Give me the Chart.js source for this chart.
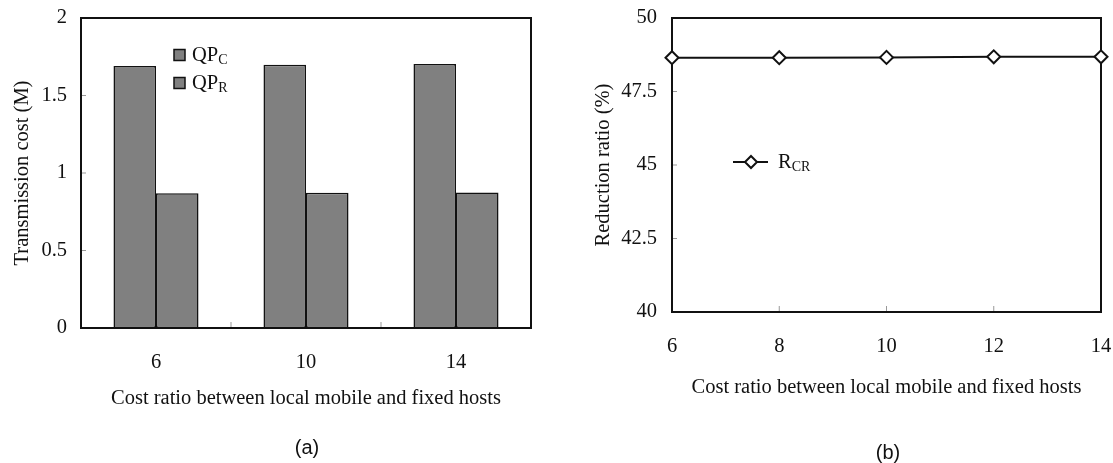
<!DOCTYPE html>
<html>
<head>
<meta charset="utf-8">
<script src="https://cdn.jsdelivr.net/npm/chart.js@4/dist/chart.umd.min.js"></script>
<style>
body{margin:0;background:#fff;width:1113px;height:463px;position:relative;overflow:hidden}
#ca{position:absolute;left:0;top:0}
#cb{position:absolute;left:556px;top:0}
.cap{position:absolute;font:20px "Liberation Sans",Arial,sans-serif;line-height:24px;color:#111;width:40px;text-align:center}
</style>
</head>
<body>
<canvas id="ca" width="556" height="463"></canvas>
<canvas id="cb" width="557" height="463"></canvas>
<div class="cap" style="left:287px;top:435px">(a)</div>
<div class="cap" style="left:868px;top:440px">(b)</div>
<script>
// (a) transmission cost
const costRatioA = ['6', '10', '14'];
const qpC = [1.690, 1.699, 1.703];
const qpR = [0.869, 0.873, 0.875];
const yTicksA = [0, 0.5, 1, 1.5, 2];
const seriesA = [['QP', 'C'], ['QP', 'R']];

// (b) reduction ratio
const costRatioB = [6, 8, 10, 12, 14];
const rCR = [48.65, 48.65, 48.66, 48.68, 48.68];
const yTicksB = [40, 42.5, 45, 47.5, 50];
const seriesB = ['R', 'CR'];

const serif = 'Liberation Serif, Times New Roman, serif';
Chart.defaults.font.family = serif;
Chart.defaults.font.size = 20.5;
Chart.defaults.color = '#111';

// box round the plot + little inward tick marks
const frame = {
    id: 'frame',
    beforeDatasetsDraw(chart) {
        const ctx = chart.ctx, a = chart.chartArea;
        const sx = chart.scales.x, sy = chart.scales.y;
        ctx.save();
        ctx.lineWidth = 1;
        ctx.strokeStyle = '#999';
        ctx.beginPath();
        for (let i = 1; i < sy.ticks.length - 1; i++) {
            const py = sy.getPixelForTick(i);
            ctx.moveTo(a.left, py); ctx.lineTo(a.left + 5, py);
        }
        if (sx.type === 'category') {
            for (let i = 1; i < sx.ticks.length; i++) {
                const px = (sx.getPixelForTick(i - 1) + sx.getPixelForTick(i)) / 2;
                ctx.moveTo(px, a.bottom); ctx.lineTo(px, a.bottom - 6);
            }
        } else {
            for (let i = 1; i < sx.ticks.length - 1; i++) {
                const px = sx.getPixelForTick(i);
                ctx.moveTo(px, a.bottom); ctx.lineTo(px, a.bottom - 6);
            }
        }
        ctx.stroke();
        ctx.lineWidth = 2;
        ctx.strokeStyle = '#111';
        ctx.strokeRect(a.left, a.top, a.right - a.left, a.bottom - a.top);
        ctx.restore();
    }
};

function subText(ctx, x, y, main, sub) {
    ctx.font = '20.5px ' + serif;
    ctx.textBaseline = 'alphabetic';
    ctx.textAlign = 'left';
    ctx.fillStyle = '#111';
    ctx.fillText(main, x, y);
    const w = ctx.measureText(main).width;
    ctx.font = '14px ' + serif;
    ctx.fillText(sub, x + w, y + 3);
}

const legendA = {
    id: 'legendA',
    afterDraw(chart) {
        const ctx = chart.ctx, a = chart.chartArea;
        ctx.save();
        chart.data.datasets.forEach((ds, i) => {
            const yc = a.top + 37 + i * 28;
            ctx.fillStyle = ds.backgroundColor;
            ctx.fillRect(a.left + 93, yc - 5.5, 11, 11);
            ctx.lineWidth = 1.5;
            ctx.strokeStyle = '#111';
            ctx.strokeRect(a.left + 93, yc - 5.5, 11, 11);
            subText(ctx, a.left + 111, yc + 6, seriesA[i][0], seriesA[i][1]);
        });
        ctx.restore();
    }
};

const legendB = {
    id: 'legendB',
    afterDraw(chart) {
        const ctx = chart.ctx, a = chart.chartArea;
        const yc = a.top + 144;
        const xc = a.left + 79;
        ctx.save();
        ctx.lineWidth = 2;
        ctx.strokeStyle = '#111';
        ctx.beginPath();
        ctx.moveTo(a.left + 61, yc); ctx.lineTo(a.left + 96, yc);
        ctx.stroke();
        ctx.beginPath();
        ctx.moveTo(xc, yc - 6); ctx.lineTo(xc + 6, yc); ctx.lineTo(xc, yc + 6); ctx.lineTo(xc - 6, yc); ctx.closePath();
        ctx.fillStyle = '#fff';
        ctx.fill();
        ctx.lineWidth = 2;
        ctx.stroke();
        subText(ctx, a.left + 106, yc + 6, seriesB[0], seriesB[1]);
        ctx.restore();
    }
};

const plainLabel = v => String(v);

new Chart(document.getElementById('ca').getContext('2d'), {
    type: 'bar',
    data: {
        labels: costRatioA,
        datasets: [
            {label: 'QPC', data: qpC, backgroundColor: '#808080', borderColor: '#111', borderWidth: 1.5, borderSkipped: false},
            {label: 'QPR', data: qpR, backgroundColor: '#808080', borderColor: '#111', borderWidth: 1.5, borderSkipped: false}
        ]
    },
    options: {
        responsive: false,
        animation: false,
        events: [],
        datasets: {bar: {categoryPercentage: 0.567, barPercentage: 1}},
        layout: {padding: {left: 6, top: 18, right: 25, bottom: 48}},
        plugins: {legend: {display: false}, tooltip: {enabled: false}},
        scales: {
            x: {
                grid: {display: false, drawTicks: false},
                border: {display: false},
                ticks: {padding: 22},
                title: {display: true, text: 'Cost ratio between local mobile and fixed hosts', padding: {top: 4, bottom: 4}},
                afterFit(s) { s.height = 87; s.paddingLeft = 0; s.paddingRight = 0; }
            },
            y: {
                min: 0, max: 2,
                afterBuildTicks(s) { s.ticks = yTicksA.map(v => ({value: v})); },
                grid: {display: false, drawTicks: false},
                border: {display: false},
                ticks: {padding: 14, callback: plainLabel},
                title: {display: true, text: 'Transmission cost (M)', padding: {top: 4, bottom: 4}},
                afterFit(s) { s.width = 75; s.paddingTop = 0; s.paddingBottom = 0; }
            }
        }
    },
    plugins: [frame, legendA]
});

new Chart(document.getElementById('cb').getContext('2d'), {
    type: 'line',
    data: {
        datasets: [{
            label: 'RCR',
            data: costRatioB.map((x, i) => ({x: x, y: rCR[i]})),
            borderColor: '#111',
            borderWidth: 2,
            pointStyle: 'rectRot',
            pointRadius: 6.5,
            pointBorderWidth: 2,
            pointBackgroundColor: '#fff',
            pointBorderColor: '#111',
            clip: false
        }]
    },
    options: {
        responsive: false,
        animation: false,
        events: [],
        layout: {padding: {left: 31, top: 18, right: 12, bottom: 59}},
        plugins: {legend: {display: false}, tooltip: {enabled: false}},
        scales: {
            x: {
                type: 'linear',
                min: costRatioB[0], max: costRatioB[costRatioB.length - 1],
                afterBuildTicks(s) { s.ticks = costRatioB.map(v => ({value: v})); },
                grid: {display: false, drawTicks: false},
                border: {display: false},
                ticks: {padding: 22, maxRotation: 0, callback: plainLabel},
                title: {display: true, text: 'Cost ratio between local mobile and fixed hosts', padding: {top: 4, bottom: 4}},
                afterFit(s) { s.height = 92; s.paddingLeft = 0; s.paddingRight = 0; }
            },
            y: {
                min: 40, max: 50,
                afterBuildTicks(s) { s.ticks = yTicksB.map(v => ({value: v})); },
                grid: {display: false, drawTicks: false},
                border: {display: false},
                ticks: {padding: 15, callback: plainLabel},
                title: {display: true, text: 'Reduction ratio (%)', padding: {top: 4, bottom: 4}},
                afterFit(s) { s.width = 85; s.paddingTop = 0; s.paddingBottom = 0; }
            }
        }
    },
    plugins: [frame, legendB]
});
</script>
</body>
</html>
